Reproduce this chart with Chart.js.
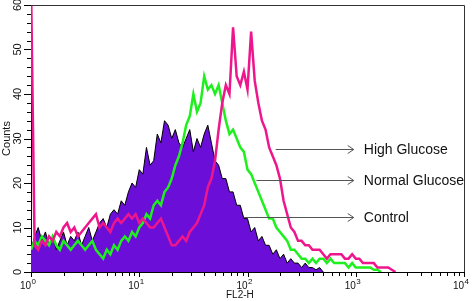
<!DOCTYPE html>
<html>
<head>
<meta charset="utf-8">
<script src="https://cdn.jsdelivr.net/npm/chart.js@4"></script>
<style>
  html, body { margin: 0; padding: 0; background: #fff; }
  #wrap { width: 472px; height: 301px; }
</style>
</head>
<body>
<div id="wrap"><canvas id="grafico"></canvas></div>
<script>
// histogram channels: 30 bins per decade, starting at 10^0
const binsPorDecada = 30

const control = [5,8,10,7,9,6,8,5,7,9, 6,8,7,9,6,8,10,7,9,11,
  12,10,13,14,13,16,15,18,20,19, 23,22,28,24,25,31,29,34,33,30,
  32,29,28,30,32,27,30,28,31,33, 29,25,24,21,21,18,18,15,15,12,
  12,9,10,7,8,6,6,4,5,3, 4,2,3,2,2,1,2,1,1,0.5, 1,0]

const normalGlucose = [5,7,6,8,7,6,8,6,5,7, 6,5,6,7,6,5,6,7,5,4,
  3,5,4,6,5,7,8,7,9,8, 10,11,13,12,15,16,15,18,19,21,
  24,26,29,33,35,40,36,38,44,41, 42,40,42,38,34,31,32,30,28,27,
  23,22,20,18,16,14,12,12,10,9, 8,7,5,5,4,3,3,2,3,2,
  3,3,2,3,2,2,2,2,1,2, 1,1,1,1,1,0.5,0.5,0]

const highGlucose = [65,6,5,7,6,8,7,9,8,10, 11,9,10,8,9,10,11,12,13,10,
  11,10,9,11,12,11,12,13,12,13, 11,12,11,10,10,11,12,10,8,6,
  6,7,8,7,9,10,11,13,15,19, 21,25,32,38,42,40,55,44,42,45,
  41,54,43,38,34,32,28,26,24,21, 16,13,10,9,7,7,6,6,5,5,
  5,4,3,4,4,4,4,3,3,4, 3,3,2,2,2,2,1,1,1,1, 0.5,0]

const etiquetasY = [0, 10, 20, 30, 40, 50, 60]
const exponentesX = [0, 1, 2, 3, 4]

// labels with arrows (x in FL2-H units, y in counts)
const flechas = [
  { texto: "High Glucose", desde: 182, hasta: 958, y: 27.7 },
  { texto: "Normal Glucose", desde: 121, hasta: 958, y: 20.75 },
  { texto: "Control", desde: 92, hasta: 958, y: 12.4 }
]
const xTexto = 1186

const aPuntos = (valores) => valores.map((v, i) => ({ x: Math.pow(10, i / binsPorDecada), y: v }))

const decoracion = {
  id: "decoracion",
  afterDatasetsDraw(chart) {
    const ctx = chart.ctx
    const area = chart.chartArea
    const ex = chart.scales.x
    const ey = chart.scales.y
    ctx.save()

    // frame top / right
    ctx.strokeStyle = "#333"
    ctx.lineWidth = 1
    ctx.beginPath()
    ctx.moveTo(area.left, area.top + 0.5)
    ctx.lineTo(area.right + 0.5, area.top + 0.5)
    ctx.lineTo(area.right + 0.5, area.bottom)
    ctx.stroke()

    // y ticks
    ctx.strokeStyle = "#000"
    ctx.beginPath()
    for (let v = 0; v <= 60; v += 2) {
      const py = Math.round(ey.getPixelForValue(v)) + 0.5
      const largo = v % 10 == 0 ? 7 : 4
      ctx.moveTo(area.left, py)
      ctx.lineTo(area.left - largo, py)
    }
    // x ticks
    for (let d = 0; d < 4; d++) {
      for (let m = 1; m < 10; m++) {
        const px = Math.round(ex.getPixelForValue(m * Math.pow(10, d))) + 0.5
        ctx.moveTo(px, area.bottom)
        ctx.lineTo(px, area.bottom + (m == 1 ? 5 : 4))
      }
    }
    const pxFin = Math.round(ex.getPixelForValue(10000)) + 0.5
    ctx.moveTo(pxFin, area.bottom)
    ctx.lineTo(pxFin, area.bottom + 5)
    ctx.stroke()

    // y labels, rotated
    ctx.fillStyle = "#111"
    ctx.font = "11px 'Liberation Sans', Arial, sans-serif"
    ctx.textAlign = "center"
    ctx.textBaseline = "middle"
    etiquetasY.forEach(v => {
      const py = ey.getPixelForValue(v)
      ctx.save()
      ctx.translate(18, py)
      ctx.rotate(-Math.PI / 2)
      ctx.fillText(String(v), 0, 0)
      ctx.restore()
    })
    ctx.save()
    ctx.translate(7, (area.top + area.bottom) / 2)
    ctx.rotate(-Math.PI / 2)
    ctx.fillText("Counts", 0, 0)
    ctx.restore()

    // x labels 10^n
    exponentesX.forEach(n => {
      const px = ex.getPixelForValue(Math.pow(10, n))
      ctx.font = "10px 'Liberation Sans', Arial, sans-serif"
      ctx.textAlign = "right"
      ctx.fillText("10", px, area.bottom + 14)
      ctx.font = "8px 'Liberation Sans', Arial, sans-serif"
      ctx.textAlign = "left"
      ctx.fillText(String(n), px + 0.5, area.bottom + 10)
    })
    ctx.font = "10px 'Liberation Sans', Arial, sans-serif"
    ctx.textAlign = "center"
    ctx.fillText("FL2-H", ex.getPixelForValue(85), area.bottom + 23)

    // arrows + text
    ctx.strokeStyle = "#555"
    ctx.lineWidth = 1
    flechas.forEach(f => {
      const py = Math.round(ey.getPixelForValue(f.y)) + 0.5
      const x1 = ex.getPixelForValue(f.desde)
      const x2 = ex.getPixelForValue(f.hasta)
      ctx.beginPath()
      ctx.moveTo(x1, py)
      ctx.lineTo(x2, py)
      ctx.moveTo(x2 - 6, py - 4)
      ctx.lineTo(x2, py)
      ctx.lineTo(x2 - 6, py + 4)
      ctx.stroke()
      ctx.fillStyle = "#111"
      ctx.font = "14px 'Liberation Sans', Arial, sans-serif"
      ctx.textAlign = "left"
      ctx.textBaseline = "middle"
      ctx.fillText(f.texto, ex.getPixelForValue(xTexto), py + 1)
    })
    ctx.restore()
  }
}

const data = {
  datasets: [
    {
      label: "High Glucose",
      data: aPuntos(highGlucose),
      borderColor: "#ee168c",
      borderWidth: 2.5,
      pointRadius: 0,
      fill: false,
      order: 0
    },
    {
      label: "Normal Glucose",
      data: aPuntos(normalGlucose),
      borderColor: "#1ef01e",
      borderWidth: 2.5,
      pointRadius: 0,
      fill: false,
      order: 1
    },
    {
      label: "Control",
      data: aPuntos(control),
      borderColor: "#000",
      borderWidth: 1,
      backgroundColor: "#6a0ed8",
      pointRadius: 0,
      fill: "origin",
      order: 2
    }
  ]
}

const config = {
  type: "line",
  data: data,
  options: {
    responsive: true,
    maintainAspectRatio: false,
    animation: false,
    layout: { padding: { left: 0, right: 8, top: 5, bottom: 0 } },
    plugins: { legend: { display: false }, tooltip: { enabled: false } },
    scales: {
      x: {
        type: "logarithmic",
        min: 1,
        max: 10000,
        ticks: { display: false },
        grid: { display: false },
        border: { display: true, color: "#000", width: 1 },
        afterFit: (s) => { s.height = 29 }
      },
      y: {
        min: 0,
        max: 60,
        ticks: { display: false },
        grid: { display: false },
        border: { display: true, color: "#000", width: 1 },
        afterFit: (s) => { s.width = 31 }
      }
    }
  },
  plugins: [decoracion]
}

const myChart = new Chart(document.getElementById("grafico"), config)
</script>
</body>
</html>
